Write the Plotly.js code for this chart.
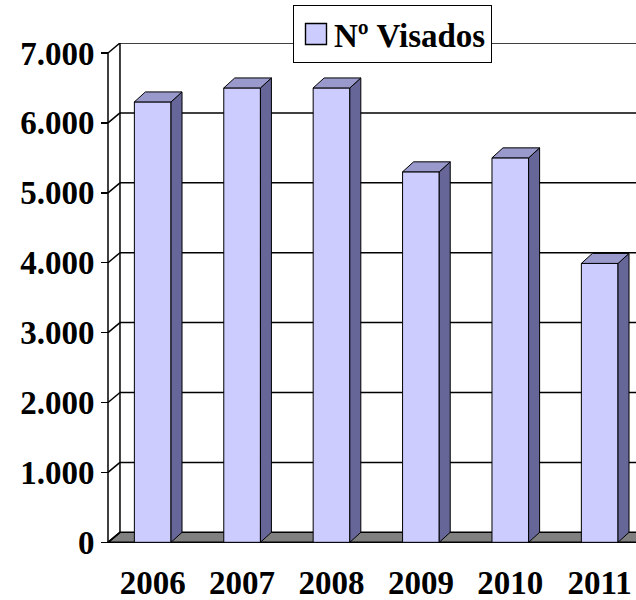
<!DOCTYPE html>
<html>
<head>
<meta charset="utf-8">
<script src="https://cdn.plot.ly/plotly-3.0.1.min.js"></script>
<style>html,body{margin:0;padding:0;background:#fff;}#chart{width:636px;height:600px;}</style>
</head>
<body>
<div id="chart"></div>
<script>
// ---- data ----
const categories = ["2006", "2007", "2008", "2009", "2010", "2011"];
const visados = [6300, 6500, 6500, 5300, 5500, 3990];
const yTickVals = [0, 1000, 2000, 3000, 4000, 5000, 6000, 7000];
const seriesName = "Nº Visados";

// ---- style / geometry ----
const FRONT = "#CCCCFF", SIDE = "#666699", TOP = "#9999CC", FLOOR = "#808080";
const barW = 0.41;          // front face width (category units)
const barDx = 0.123, barDy = 143;   // bar depth offset
const wallDx = 0.134, wallDy = 143; // wall depth offset
const xMin = -0.5 - 8 / 89.4, xMax = xMin + 536 / 89.4;
const yMin = -24, yMax = 7000 + wallDy;
const FONT = {family: "Liberation Serif, Times New Roman, serif", size: 33, color: "#000", weight: "bold"};

const xs = categories.map((_, i) => i);

const traces = [];
traces.push({
  type: "bar", x: xs, y: visados, width: barW, name: seriesName,
  marker: {color: FRONT, line: {color: "#000", width: 1}},
  hoverinfo: "y"
});
xs.forEach((c, i) => {
  const v = visados[i], r = c + barW / 2, l = c - barW / 2;
  traces.push({
    type: "scatter", mode: "lines", fill: "toself", fillcolor: SIDE,
    line: {color: "#000", width: 1}, showlegend: false, hoverinfo: "skip",
    x: [r, r + barDx, r + barDx, r, r], y: [0, barDy, v + barDy, v, 0]
  });
  traces.push({
    type: "scatter", mode: "lines", fill: "toself", fillcolor: TOP,
    line: {color: "#000", width: 1}, showlegend: false, hoverinfo: "skip",
    x: [l, l + barDx, r + barDx, r, l], y: [v, v + barDy, v + barDy, v, v]
  });
});

const shapes = [];
const line = (x0, y0, x1, y1) => ({type: "line", xref: "x", yref: "y", layer: "below",
  x0, y0, x1, y1, line: {color: "#000", width: 1.5}});
// floor
shapes.push({type: "path", xref: "x", yref: "y", layer: "below",
  path: `M -0.5 0 L ${xMax + 1} 0 L ${xMax + 1} ${wallDy} L ${-0.5 + wallDx} ${wallDy} Z`,
  fillcolor: FLOOR, line: {color: "#000", width: 1.5}});
// back wall gridlines and left wall diagonals
yTickVals.forEach(v => {
  if (v > 0) shapes.push(line(-0.5 + wallDx, v + wallDy, xMax + 1, v + wallDy));
  shapes.push(line(-0.5, v, -0.5 + wallDx, v + wallDy));
});
// wall edges
shapes.push(line(-0.5 + wallDx, wallDy, -0.5 + wallDx, 7000 + wallDy));
shapes.push(line(-0.5, 0, -0.5, 7000));

const boundaries = categories.map((_, i) => i - 0.5).concat([categories.length - 0.5]);

const layout = {
  width: 636, height: 600,
  margin: {l: 100, r: 0, t: 43, b: 56, pad: 0},
  paper_bgcolor: "#fff", plot_bgcolor: "rgba(0,0,0,0)",
  separators: ",.",
  showlegend: true,
  font: FONT,
  xaxis: {range: [xMin, xMax], tickvals: xs, ticktext: categories, ticks: "",
    showgrid: false, zeroline: false, showline: false, tickfont: FONT,
    ticklabelstandoff: 16},
  xaxis2: {range: [xMin, xMax], overlaying: "x", anchor: "y", side: "bottom",
    tickvals: boundaries, ticks: "outside", ticklen: 8, tickwidth: 1.5, tickcolor: "#000",
    showticklabels: false, showgrid: false, zeroline: false, showline: false},
  yaxis: {range: [yMin, yMax], anchor: "free", position: 8 / 536,
    tickvals: yTickVals, tickformat: ",d", ticks: "outside", ticklen: 7, tickwidth: 1.5, tickcolor: "#000",
    showgrid: false, zeroline: false, showline: false, tickfont: FONT},
  legend: {x: (293 - 100) / 536, y: 1 + 38 / 501, xanchor: "left", yanchor: "top",
    bgcolor: "#fff", bordercolor: "#000", borderwidth: 1, font: FONT},
  shapes: shapes
};

Plotly.newPlot("chart", traces, layout, {displayModeBar: false, staticPlot: true}).then(gd => {
  // enlarge the legend swatch to match the reference's square
  gd.querySelectorAll(".legend .legendpoints path").forEach(p => {
    p.setAttribute("transform", "translate(22,0) scale(1.75)");
    p.style.strokeWidth = "0.8px";
  });
});
</script>
</body>
</html>
